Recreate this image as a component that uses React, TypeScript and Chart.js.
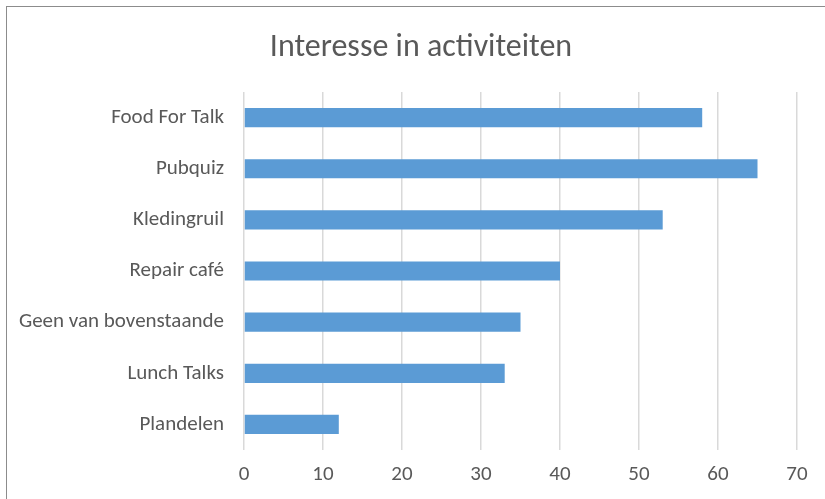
import React, { useEffect, useRef } from "react";
import { Chart, registerables } from "chart.js";

Chart.register(...registerables);

const categories = [
  "Food For Talk",
  "Pubquiz",
  "Kledingruil",
  "Repair café",
  "Geen van bovenstaande",
  "Lunch Talks",
  "Plandelen",
];
const values = [58, 65, 53, 40, 35, 33, 12];
const xMin = 0;
const xMax = 70;
const xStep = 10;
const title = "Interesse in activiteiten";

const shiftTitle = {
  id: "shiftTitle",
  afterLayout(chart: any) {
    const t = chart.titleBlock;
    if (t) {
      t.left = 45;
      t.right = 797;
      t.width = 752;
    }
  },
};

export default function App() {
  const ref = useRef<HTMLCanvasElement | null>(null);

  useEffect(() => {
    if (!ref.current) return;
    const font = "Calibri, Carlito, Lato, sans-serif";
    const chart = new Chart(ref.current, {
      type: "bar",
      plugins: [shiftTitle],
      data: {
        labels: categories,
        datasets: [
          {
            data: values,
            backgroundColor: "#5B9BD5",
            borderWidth: 0,
            barPercentage: 0.75,
            categoryPercentage: 0.5,
          },
        ],
      },
      options: {
        indexAxis: "y",
        animation: false,
        responsive: false,
        maintainAspectRatio: false,
        layout: { padding: { left: 0, right: 28, top: 0, bottom: 0 } },
        plugins: {
          legend: { display: false },
          tooltip: { enabled: false },
          title: {
            display: true,
            text: title,
            color: "#595959",
            font: { family: font, size: 32, weight: "normal", lineHeight: 1.2 },
            padding: { top: 29, bottom: 24.6 },
          },
        },
        scales: {
          x: {
            min: xMin,
            max: xMax,
            ticks: {
              stepSize: xStep,
              color: "#595959",
              font: { family: font, size: 21 },
              padding: 12,
            },
            grid: { color: "#D9D9D9", lineWidth: 1.5, drawTicks: false },
            border: { display: false },
            afterFit: (s: any) => {
              s.height = 49;
            },
          },
          y: {
            ticks: {
              color: "#595959",
              font: { family: font, size: 21 },
              padding: 20,
            },
            grid: { display: false, drawTicks: false },
            border: { display: false },
            afterFit: (s: any) => {
              s.width = 244;
            },
          },
        },
      } as any,
    });
    return () => chart.destroy();
  }, []);

  return (
    <div style={{ position: "fixed", left: 0, top: 0, width: 825, height: 499, background: "#fff" }}>
      <div
        style={{
          position: "absolute",
          left: 6,
          top: 6,
          width: 830,
          height: 510,
          borderTop: "1px solid #8c8c8c",
          borderLeft: "1px solid #8c8c8c",
        }}
      />
      <canvas ref={ref} width={825} height={499} style={{ position: "absolute", left: 0, top: 0 }} />
    </div>
  );
}
